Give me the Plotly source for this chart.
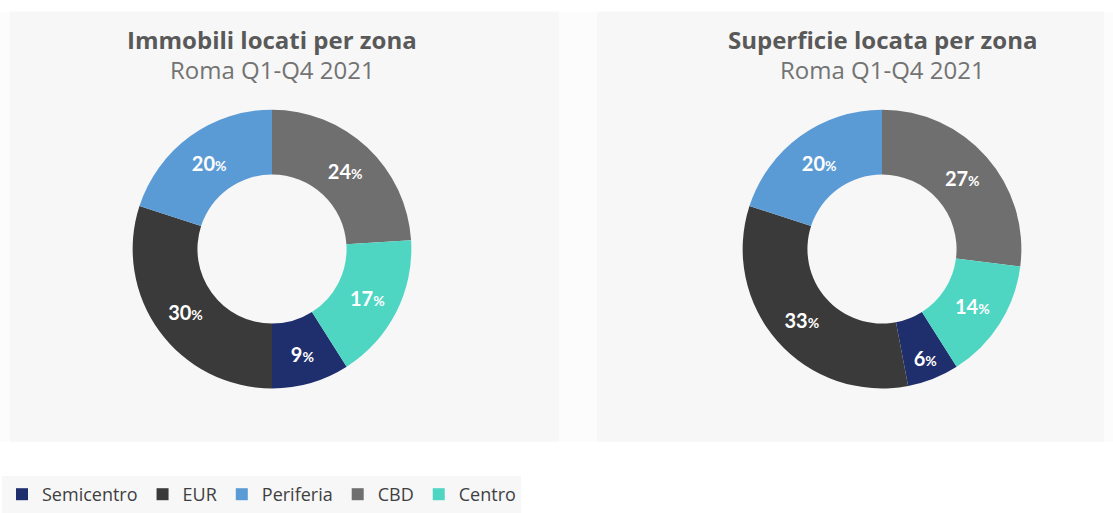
import plotly.graph_objects as go

labels = ["Semicentro", "EUR", "Periferia", "CBD", "Centro"]
colors = ["#1f2e6c", "#3a3a3a", "#5b9bd5", "#6f6f6f", "#4fd6c3"]
immobili = [9, 30, 20, 24, 17]
superficie = [6, 33, 20, 27, 14]
titles = ["Immobili locati per zona", "Superficie locata per zona"]
subtitle = "Roma Q1-Q4 2021"

W, H = 1113, 513


def start_rotation(vals):
    # CBD starts at 12 o'clock; first slice (Semicentro) starts after CBD + Centro
    total = sum(vals)
    return (vals[3] + vals[4]) / total * 360


def texts(vals):
    return [f"<b>{v}</b><span style='font-size:14px'><b>%</b></span>" for v in vals]


def dom(cx, cy, r):
    return dict(x=[(cx - r) / W, (cx + r) / W], y=[(H - cy - r) / H, (H - cy + r) / H])


fig = go.Figure()
for vals, (cx, cy) in [(immobili, (272, 252)), (superficie, (882, 252))]:
    fig.add_trace(go.Pie(
        labels=labels, values=vals, sort=False, direction="clockwise",
        rotation=start_rotation(vals), hole=0.535,
        marker=dict(colors=colors, line=dict(width=0)),
        text=texts(vals), textinfo="text", textposition="inside",
        insidetextorientation="horizontal",
        textfont=dict(family="Lato", size=20, color="white"),
        domain=dom(cx, cy, 141), showlegend=True, hoverinfo="label+percent",
    ))

shapes = [
    dict(type="rect", xref="paper", yref="paper", x0=0, x1=1,
         y0=(H - 447) / H, y1=(H - 12) / H, fillcolor="#fcfcfc", line_width=0, layer="below"),
    dict(type="rect", xref="paper", yref="paper", x0=10 / W, x1=559 / W,
         y0=(H - 447) / H, y1=(H - 12) / H, fillcolor="#f7f7f7", line_width=0, layer="below"),
    dict(type="rect", xref="paper", yref="paper", x0=597 / W, x1=1104 / W,
         y0=(H - 447) / H, y1=(H - 12) / H, fillcolor="#f7f7f7", line_width=0, layer="below"),
]

annotations = []
for t, cx in zip(titles, [272, 882]):
    annotations.append(dict(text=f"<b>{t}</b>", x=cx / W, y=(H - 40) / H, xref="paper", yref="paper",
                            showarrow=False, font=dict(family="Open Sans", size=24, color="#595959"),
                            xanchor="center", yanchor="middle"))
    annotations.append(dict(text=subtitle, x=cx / W, y=(H - 70) / H, xref="paper", yref="paper",
                            showarrow=False, font=dict(family="Open Sans", size=24, color="#737373"),
                            xanchor="center", yanchor="middle"))

fig.update_layout(
    width=W, height=H, margin=dict(l=0, r=0, t=0, b=0),
    paper_bgcolor="white", plot_bgcolor="white",
    shapes=shapes, annotations=annotations,
    legend=dict(orientation="h", x=2 / W, y=(H - 482) / H, xanchor="left", yanchor="top",
                bgcolor="#f7f7f7", font=dict(family="Open Sans", size=18, color="#3f3f3f"),
                itemwidth=30, tracegroupgap=0),
)

fig.write_html("out.html", config={"displayModeBar": False},
               post_script="document.body.style.margin='0';document.body.style.overflow='hidden';")
